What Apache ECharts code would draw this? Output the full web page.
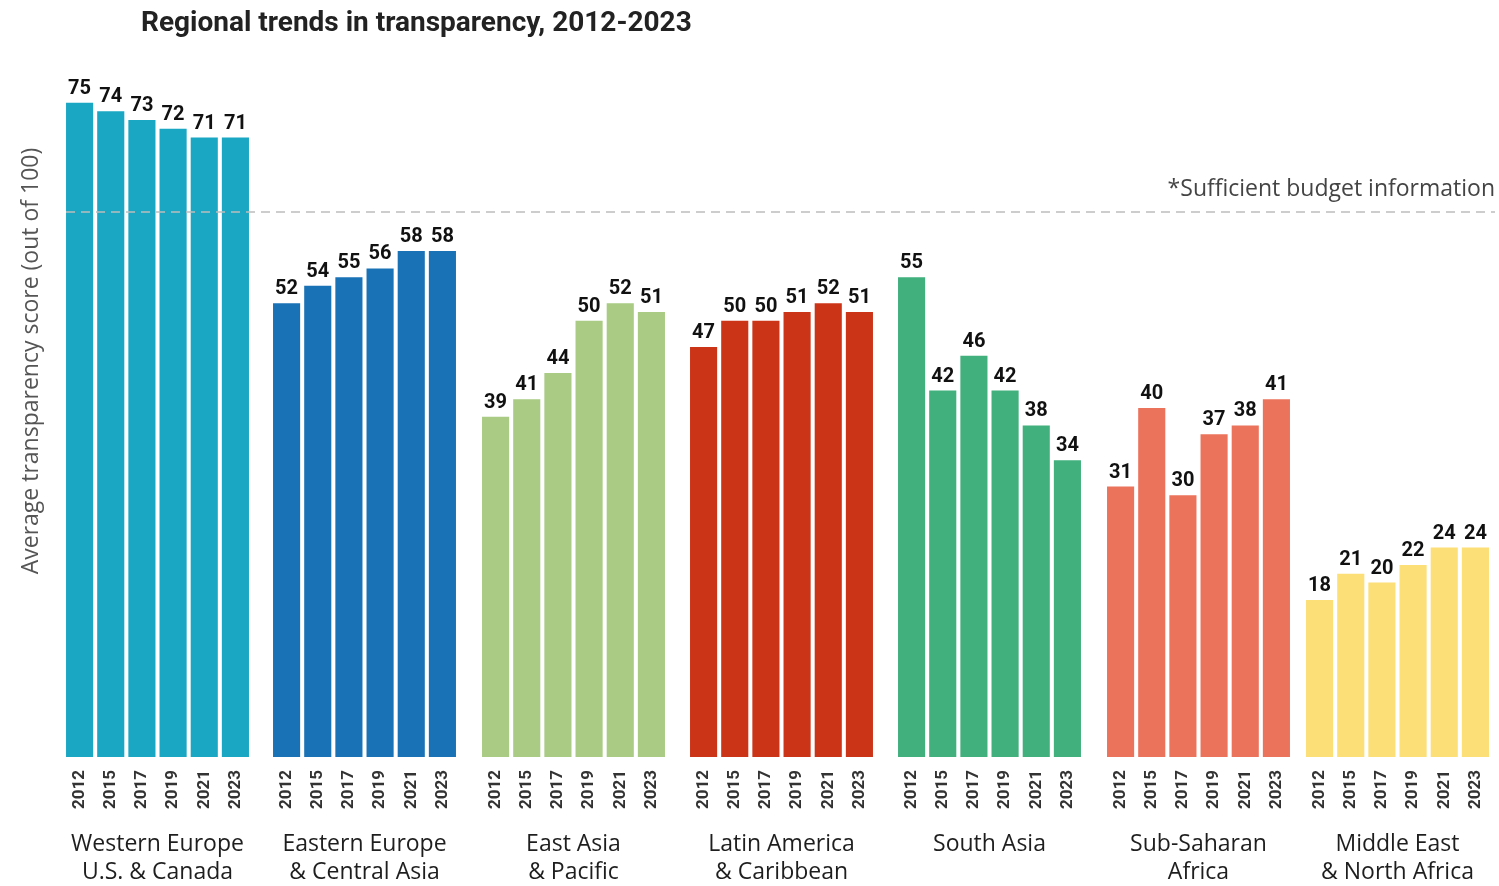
<!DOCTYPE html>
<html>
<head>
<meta charset="utf-8">
<title>Regional trends in transparency, 2012-2023</title>
<script src="https://cdn.jsdelivr.net/npm/echarts@6/dist/echarts.min.js"></script>
<style>
  html, body { margin: 0; padding: 0; background: #ffffff; }
  #chart { width: 1499px; height: 886px; }
</style>
</head>
<body>
<div id="chart"></div>
<script>
// Survey rounds shown under every region
const years = ['2012', '2015', '2017', '2019', '2021', '2023'];

// Region names (two-line captions under each group)
const regions = [
  'Western Europe\nU.S. & Canada',
  'Eastern Europe\n& Central Asia',
  'East Asia\n& Pacific',
  'Latin America\n& Caribbean',
  'South Asia',
  'Sub-Saharan\nAfrica',
  'Middle East\n& North Africa'
];

// Average transparency score per region and round
const westernEurope = [75, 74, 73, 72, 71, 71];
const easternEurope = [52, 54, 55, 56, 58, 58];
const eastAsia      = [39, 41, 44, 50, 52, 51];
const latinAmerica  = [47, 50, 50, 51, 52, 51];
const southAsia     = [55, 42, 46, 42, 38, 34];
const subSaharan    = [31, 40, 30, 37, 38, 41];
const middleEast    = [18, 21, 20, 22, 24, 24];

// Level marked as "sufficient budget information"
const sufficientLevel = 62.5;

const regionValues = [westernEurope, easternEurope, eastAsia, latinAmerica, southAsia, subSaharan, middleEast];
const regionColors = ['#1aa7c3', '#1a72b6', '#a9cb83', '#cc3418', '#41b07d', '#ec735b', '#fddf77'];

// Left edge of each region's block of bars (px)
const groupLeft = [64, 271, 480, 688, 896, 1105, 1304];
const groupWidth = 187;
const plotTop = 59;
const plotHeight = 698;
const yMax = 80;

const grids = [];
const xAxes = [];
const yAxes = [];
const series = [];

regions.forEach(function (name, i) {
  grids.push({
    left: groupLeft[i], top: plotTop, width: groupWidth, height: plotHeight,
    outerBoundsMode: 'none', containLabel: false
  });
  xAxes.push({
    type: 'category',
    gridIndex: i,
    data: years,
    axisLine: { show: false },
    axisTick: { show: false },
    axisLabel: {
      rotate: 90,
      margin: 13,
      color: '#333333',
      fontSize: 17,
      fontFamily: 'Roboto, sans-serif',
      fontWeight: 'bold'
    },
    name: name,
    nameLocation: 'middle',
    nameGap: 73,
    nameTextStyle: {
      color: '#1e1e1e',
      fontSize: 23,
      fontWeight: 500,
      fontFamily: '"Open Sans", sans-serif',
      lineHeight: 28,
      verticalAlign: 'top'
    }
  });
  yAxes.push({
    type: 'value',
    gridIndex: i,
    min: 0,
    max: yMax,
    show: false,
    splitLine: { show: false }
  });
  series.push({
    type: 'bar',
    xAxisIndex: i,
    yAxisIndex: i,
    data: regionValues[i],
    barCategoryGap: '13%',
    itemStyle: { color: regionColors[i] },
    label: {
      show: true,
      position: 'top',
      distance: 4,
      color: '#111111',
      fontSize: 20,
      fontWeight: 'bold',
      fontFamily: 'Roboto, sans-serif'
    },
    silent: true
  });
});

// Full-width overlay grid carrying the dashed reference line
const overlay = regions.length;
grids.push({ left: 66, right: 4, top: plotTop, height: plotHeight, outerBoundsMode: 'none', containLabel: false });
xAxes.push({ type: 'value', gridIndex: overlay, min: 0, max: 1, show: false });
yAxes.push({ type: 'value', gridIndex: overlay, min: 0, max: yMax, show: false, splitLine: { show: false } });
series.push({
  type: 'line',
  xAxisIndex: overlay,
  yAxisIndex: overlay,
  data: [],
  silent: true,
  markLine: {
    silent: true,
    symbol: 'none',
    lineStyle: { type: [9, 6], color: '#bdbdbd', width: 1.5 },
    label: {
      show: true,
      position: 'insideEndTop',
      distance: [0, 11],
      formatter: '*Sufficient budget information',
      color: '#444444',
      fontSize: 23,
      fontFamily: '"Open Sans", sans-serif'
    },
    data: [{ yAxis: sufficientLevel }]
  }
});

const chart = echarts.init(document.getElementById('chart'), null, { renderer: 'canvas' });
chart.setOption({
  animation: false,
  backgroundColor: '#ffffff',
  title: {
    text: 'Regional trends in transparency, 2012-2023',
    left: 141,
    top: 10,
    padding: 0,
    textStyle: {
      color: '#222222',
      fontSize: 28,
      fontWeight: 'bold',
      fontFamily: 'Roboto, sans-serif'
    }
  },
  graphic: [{
    type: 'text',
    x: 31,
    y: 361,
    rotation: Math.PI / 2,
    style: {
      text: 'Average transparency score (out of 100)',
      fill: '#555555',
      fontSize: 23,
      fontFamily: '"Open Sans", sans-serif',
      align: 'center',
      verticalAlign: 'middle'
    }
  }],
  grid: grids,
  xAxis: xAxes,
  yAxis: yAxes,
  series: series
});
</script>
</body>
</html>
